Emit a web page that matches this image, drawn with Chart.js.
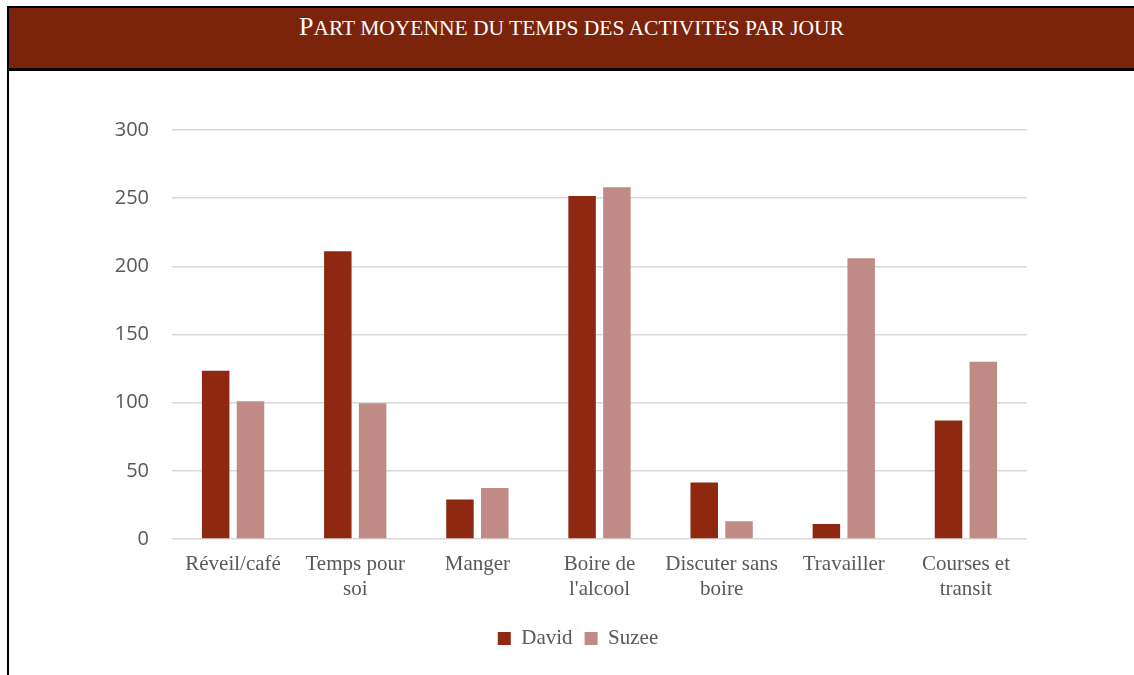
<!DOCTYPE html>
<html>
<head>
<meta charset="utf-8">
<script src="https://cdn.jsdelivr.net/npm/chart.js@4.4.1/dist/chart.umd.min.js"></script>
<style>
  body { margin: 0; background: #fff; width: 1134px; height: 675px; overflow: hidden; position: relative; }
  .frame { position: absolute; left: 7px; top: 6px; right: 0; bottom: 0; border-left: 2px solid #000; border-top: 2px solid #000; }
  .band { height: 60px; background: #7b230b; border-bottom: 3px solid #000; color: #fff;
          font-family: "Liberation Serif", "Times New Roman", serif; text-align: center;
          padding-left: 8px; position: relative; }
  .band span { position: absolute; left: 0; right: 0; top: 6px; font-size: 21.5px; line-height: 26px; }
  .band b { font-weight: normal; font-size: 26px; }
  .chart-box { position: absolute; left: 9px; top: 71px; width: 1125px; height: 604px; }
</style>
</head>
<body>
<div class="frame"><div class="band"><span><b>P</b>ART MOYENNE DU TEMPS DES ACTIVITES PAR JOUR</span></div></div>
<div class="chart-box"><canvas id="myChart" width="1125" height="604"></canvas></div>
<script>
var categories = [
    'Réveil/café',
    ['Temps pour', 'soi'],
    'Manger',
    ['Boire de', "l'alcool"],
    ['Discuter sans', 'boire'],
    'Travailler',
    ['Courses et', 'transit']
];
var davidValues = [123.5, 211, 29, 251.5, 41.5, 11, 87];
var suzeeValues = [101, 99.5, 37.5, 258, 13, 206, 130];
var yTicks = [0, 50, 100, 150, 200, 250, 300];

// the legend sits a bit right of the plot centre in the original
var shiftLegend = {
    id: 'shiftLegend',
    afterLayout: function (chart) {
        chart.legend.left += 60;
        chart.legend.right += 60;
    }
};

var ctx = document.getElementById('myChart').getContext('2d');
var myChart = new Chart(ctx, {
    type: 'bar',
    data: {
        labels: categories,
        datasets: [
            { label: 'David', data: davidValues, backgroundColor: '#8f2811',
              categoryPercentage: 0.57, barPercentage: 0.79 },
            { label: 'Suzee', data: suzeeValues, backgroundColor: '#c08a85',
              categoryPercentage: 0.57, barPercentage: 0.79 }
        ]
    },
    options: {
        responsive: false,
        animation: false,
        devicePixelRatio: 1,
        layout: { padding: { left: 0, right: 107, top: 59, bottom: 16 } },
        plugins: {
            title: { display: false },
            tooltip: { enabled: false },
            legend: {
                position: 'bottom',
                labels: {
                    boxWidth: 13, boxHeight: 13, padding: 12,
                    color: '#595959',
                    font: { family: '"Liberation Serif", "Times New Roman", serif', size: 21 }
                }
            }
        },
        scales: {
            x: {
                grid: { display: false },
                border: { display: false },
                ticks: {
                    color: '#595959', padding: 5, maxRotation: 0, autoSkip: false,
                    font: { family: '"Liberation Serif", "Times New Roman", serif', size: 21, lineHeight: 1.19 }
                },
                afterFit: function (scale) { scale.height = 77; }
            },
            y: {
                min: 0, max: 300,
                afterBuildTicks: function (scale) {
                    scale.ticks = yTicks.map(function (v) { return { value: v }; });
                },
                grid: { color: '#d9d9d9', lineWidth: 1.5, drawTicks: false },
                border: { display: false },
                ticks: {
                    color: '#595959', padding: 23,
                    font: { family: '"Open Sans", "Liberation Sans", sans-serif', size: 20 }
                },
                afterFit: function (scale) { scale.width = 163; }
            }
        }
    },
    plugins: [shiftLegend]
});
</script>
</body>
</html>
